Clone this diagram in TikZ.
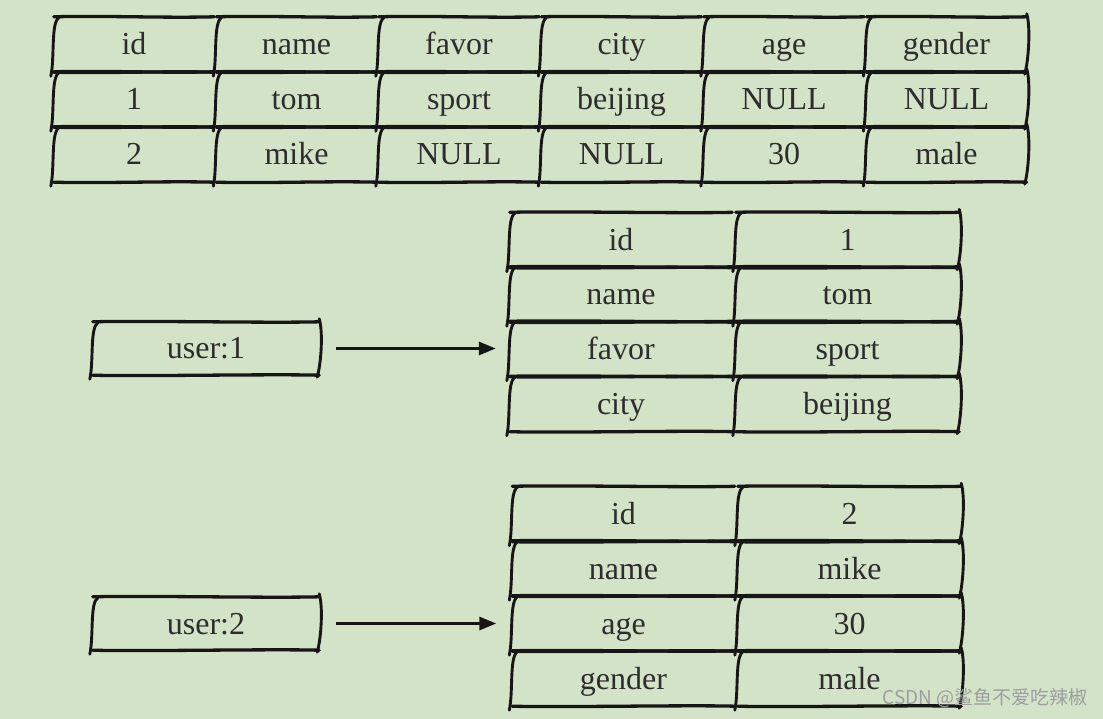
\documentclass[tikz,border=0pt]{standalone}
\usepackage{fontspec}
\setmainfont{Liberation Serif}
\newfontfamily\cjkfont{Noto Sans CJK SC}
\usetikzlibrary{arrows.meta}
\definecolor{bgc}{RGB}{211,227,200}
\definecolor{ink}{RGB}{22,22,22}
\definecolor{txt}{RGB}{45,45,45}
\newcommand\cellfont{\fontsize{32}{38}\selectfont}
\newcommand\hborders{%
  \draw[bline] ([shift={(-1,0)}]\tikzlastnode.north west) .. controls ([shift={(50,-1.3)}]\tikzlastnode.north west) and ([shift={(-50,1.3)}]\tikzlastnode.north east) .. ([shift={(1,0)}]\tikzlastnode.north east);
  \draw[bline] ([shift={(-1,0)}]\tikzlastnode.south west) .. controls ([shift={(50,1.3)}]\tikzlastnode.south west) and ([shift={(-50,-1.3)}]\tikzlastnode.south east) .. ([shift={(1,0)}]\tikzlastnode.south east);}
\newcommand\leftbr{%
  \draw[sline] ([shift={(4,1)}]\tikzlastnode.north west) .. controls ([shift={(-4,6)}]\tikzlastnode.north west) and ([shift={(0,-14)}]\tikzlastnode.south west) .. ([shift={(-4,4)}]\tikzlastnode.south west);}
\newcommand\rightbr{%
  \draw[sline] ([shift={(1,-3)}]\tikzlastnode.north east) .. controls ([shift={(5,10)}]\tikzlastnode.north east) and ([shift={(3,-12)}]\tikzlastnode.south east) .. ([shift={(-1,2)}]\tikzlastnode.south east);}
\tikzset{
  bline/.style={draw=ink, line width=3.3pt, line cap=round},
  sline/.style={draw=ink, line width=2.9pt, line cap=round},
  cell/.style={minimum width=#1, minimum height=55pt, inner sep=0pt,
    text height=25pt, text depth=4pt, font=\cellfont, text=txt,
    append after command={\pgfextra{\hborders\leftbr}}},
  lastcell/.style={minimum width=#1, minimum height=55pt, inner sep=0pt,
    text height=25pt, text depth=4pt, font=\cellfont, text=txt,
    append after command={\pgfextra{\hborders\leftbr\rightbr}}},
  keybox/.style={minimum width=224pt, minimum height=53pt, inner sep=0pt,
    text height=25pt, text depth=4pt, font=\cellfont, text=txt,
    append after command={\pgfextra{\hborders\leftbr\rightbr}}},
  arr/.style={draw=ink, line width=3pt, -{Triangle[length=17pt,width=13pt]}}
}
\begin{document}
\begin{tikzpicture}[x=1pt,y=-1pt]
\fill[bgc] (0,0) rectangle (1103,719);
\useasboundingbox (0,0) rectangle (1103,719);

% top table
\foreach \t [count=\i] in {id,name,favor,city,age} \node[cell=158pt] (top-1-\i) at ({134+162.5*(\i-1)},44.5) {\t};
\node[lastcell=158pt] (top-1-6) at (946.5,44.5) {gender};
\foreach \t [count=\i] in {1,tom,sport,beijing,NULL} \node[cell=158pt] (top-2-\i) at ({134+162.5*(\i-1)},99.5) {\t};
\node[lastcell=158pt] (top-2-6) at (946.5,99.5) {NULL};
\foreach \t [count=\i] in {2,mike,NULL,NULL,30} \node[cell=158pt] (top-3-\i) at ({134+162.5*(\i-1)},154.5) {\t};
\node[lastcell=158pt] (top-3-6) at (946.5,154.5) {male};

% user:1 hash
\node[cell=220pt] (m-1-1) at (621,240) {id};
\node[lastcell=221pt] (m-1-2) at (847.5,240) {1};
\node[cell=220pt] (m-2-1) at (621,294.5) {name};
\node[lastcell=221pt] (m-2-2) at (847.5,294.5) {tom};
\node[cell=220pt] (m-3-1) at (621,349) {favor};
\node[lastcell=221pt] (m-3-2) at (847.5,349) {sport};
\node[cell=220pt] (m-4-1) at (621,404) {city};
\node[lastcell=221pt] (m-4-2) at (847.5,404) {beijing};

% user:2 hash
\node[cell=220pt] (b-1-1) at (623.5,514) {id};
\node[lastcell=221pt] (b-1-2) at (849.5,514) {2};
\node[cell=220pt] (b-2-1) at (623.5,568.5) {name};
\node[lastcell=221pt] (b-2-2) at (849.5,568.5) {mike};
\node[cell=220pt] (b-3-1) at (623.5,623.5) {age};
\node[lastcell=221pt] (b-3-2) at (849.5,623.5) {30};
\node[cell=220pt] (b-4-1) at (623.5,678.5) {gender};
\node[lastcell=221pt] (b-4-2) at (849.5,678.5) {male};

% keys
\node[keybox] (u1) at (206,348.5) {user:1};
\node[keybox] (u2) at (206,623.5) {user:2};

\draw[arr, shorten <=18pt, shorten >=15pt] (u1.east) -- (u1.east -| m-3-1.west);
\draw[arr, shorten <=18pt, shorten >=17pt] (u2.east) -- (u2.east -| b-3-1.west);

\node[font=\cjkfont\fontsize{19}{20}\selectfont, text=black!38, anchor=east, inner sep=0pt] (wm) at (1088,698) {CSDN @鲨鱼不爱吃辣椒};
\end{tikzpicture}
\end{document}
